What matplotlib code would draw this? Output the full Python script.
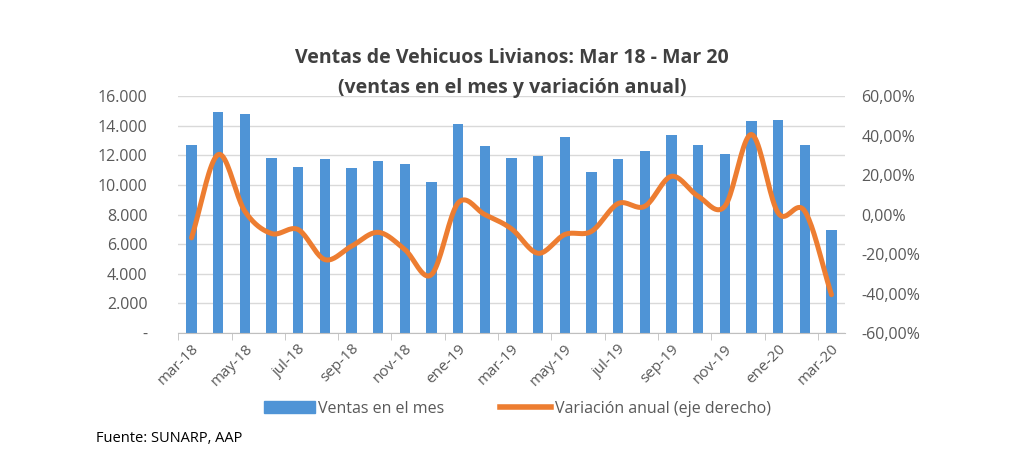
import numpy as np
import matplotlib.pyplot as plt
from matplotlib.patches import Patch
from matplotlib.lines import Line2D

# --------------------------------------------------------------------------
# data (mar-18 .. mar-20)
# --------------------------------------------------------------------------
months = ["mar-18", "abr-18", "may-18", "jun-18", "jul-18", "ago-18", "sep-18",
          "oct-18", "nov-18", "dic-18", "ene-19", "feb-19", "mar-19", "abr-19",
          "may-19", "jun-19", "jul-19", "ago-19", "sep-19", "oct-19", "nov-19",
          "dic-19", "ene-20", "feb-20", "mar-20"]
ventas = [12730, 14920, 14800, 11830, 11220, 11760, 11160, 11650, 11450, 10190,
          14090, 12620, 11810, 11990, 13230, 10860, 11760, 12330, 13410, 12730,
          12120, 14310, 14380, 12670, 6990]
variacion = [-11.8, 30.4, 1.7, -9.6, -7.6, -22.8, -16.0, -9.0, -17.7, -30.4,
             5.9, 0.0, -7.2, -19.6, -10.1, -8.5, 5.6, 4.2, 19.4, 9.3,
             4.2, 40.6, 0.8, 1.7, -40.6]

BLUE = "#4f94d6"
ORANGE = "#ed7d31"
GREY = "#595959"
FONT = "Open Sans"


def catmull_rom(xs, ys, n=20):
    """Smooth curve through the points, like Excel's smoothed line."""
    xs = np.asarray(xs, float)
    ys = np.asarray(ys, float)
    px = np.concatenate([[2 * xs[0] - xs[1]], xs, [2 * xs[-1] - xs[-2]]])
    py = np.concatenate([[2 * ys[0] - ys[1]], ys, [2 * ys[-1] - ys[-2]]])
    out_x, out_y = [], []
    t = np.linspace(0, 1, n, endpoint=False)
    for i in range(1, len(px) - 2):
        for p, o in ((px, out_x), (py, out_y)):
            p0, p1, p2, p3 = p[i - 1], p[i], p[i + 1], p[i + 2]
            o.extend(0.5 * (2 * p1 + (-p0 + p2) * t
                            + (2 * p0 - 5 * p1 + 4 * p2 - p3) * t ** 2
                            + (-p0 + 3 * p1 - 3 * p2 + p3) * t ** 3))
    out_x.append(xs[-1])
    out_y.append(ys[-1])
    return np.array(out_x), np.array(out_y)


plt.rcParams["font.family"] = [FONT, "DejaVu Sans"]

fig = plt.figure(figsize=(10.24, 4.67), dpi=100)
ax = fig.add_axes([0.174, 0.287, 0.651, 0.507])
ax2 = ax.twinx()

x = np.arange(len(months))
ax.bar(x, ventas, width=0.38, color=BLUE, zorder=2)

sx, sy = catmull_rom(x, variacion)
ax2.plot(sx, sy, color=ORANGE, linewidth=3.6, solid_capstyle="round", zorder=3)

# left axis
ax.set_ylim(0, 16000)
ax.set_yticks(np.arange(0, 16001, 2000))
ax.set_yticklabels(["-"] + [f"{v:,}".replace(",", ".") for v in range(2000, 16001, 2000)])
ax.yaxis.grid(True, color="#d9d9d9", linewidth=1)
ax.set_axisbelow(True)
ax.set_xlim(-0.5, len(months) - 0.5)

# right axis
ax2.set_ylim(-60, 60)
ax2.set_yticks(np.arange(-60, 61, 20))
ax2.set_yticklabels([f"{v},00%" for v in range(-60, 61, 20)])

for a in (ax, ax2):
    for s in a.spines.values():
        s.set_visible(False)
    a.tick_params(axis="y", length=0, labelsize=11.5, colors=GREY)
ax.tick_params(axis="y", pad=22)
ax2.tick_params(axis="y", pad=12)
ax.spines["bottom"].set_visible(True)
ax.spines["bottom"].set_color("#bfbfbf")

# x ticks: marks between categories every 2 months, labels on odd months
ax.set_xticks(np.arange(-0.5, len(months), 2), minor=True)
ax.tick_params(axis="x", which="minor", length=5, color="#bfbfbf")
ax.set_xticks(x[::2])
ax.set_xticklabels(months[::2], rotation=45, ha="right", rotation_mode="anchor",
                   fontsize=11, color=GREY)
ax.tick_params(axis="x", which="major", length=0, pad=6)

fig.text(0.5, 0.875, "Ventas de Vehicuos Livianos: Mar 18 - Mar 20",
         ha="center", va="center", fontsize=14, fontweight="bold", color="#404040")
fig.text(0.5, 0.812, "(ventas en el mes y variación anual)",
         ha="center", va="center", fontsize=14, fontweight="bold", color="#404040")

handles = [Patch(color=BLUE), Line2D([0], [0], color=ORANGE, linewidth=4)]
fig.legend(handles, ["Ventas en el mes", "Variación anual (eje derecho)"],
           loc="center", bbox_to_anchor=(0.505, 0.125), ncol=2, frameon=False,
           fontsize=11.5, labelcolor=GREY, handlelength=3.2, handletextpad=0.2,
           columnspacing=3.5)

fig.text(0.094, 0.062, "Fuente: SUNARP, AAP", ha="left", va="center",
         fontsize=10.5, color="black")

fig.savefig("out.png", dpi=100)
